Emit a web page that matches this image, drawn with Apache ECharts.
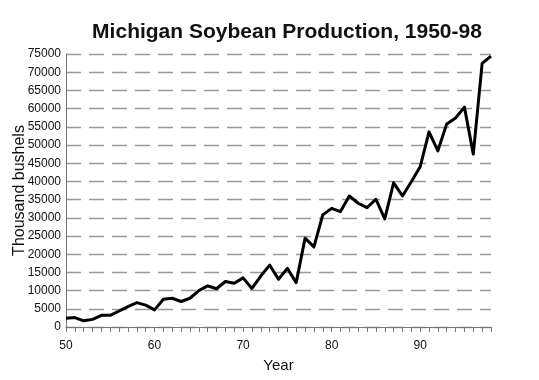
<!DOCTYPE html>
<html>
<head>
<meta charset="utf-8">
<script src="https://cdn.jsdelivr.net/npm/echarts@6/dist/echarts.min.js"></script>
<style>html,body{margin:0;padding:0;background:#fff;}#c{width:539px;height:380px;}</style>
</head>
<body>
<div id="c"></div>
<script>
var years = ["50","51","52","53","54","55","56","57","58","59","60","61","62","63","64","65","66","67","68","69","70","71","72","73","74","75","76","77","78","79","80","81","82","83","84","85","86","87","88","89","90","91","92","93","94","95","96","97","98"];
var production = [2400,2600,1700,2100,3200,3200,4400,5600,6700,6000,4700,7600,7900,7000,7900,10000,11300,10500,12500,12000,13500,10600,14000,17000,13100,16100,12200,24400,22000,30800,32600,31700,36000,34000,32800,35100,29700,39600,36000,39900,44000,53600,48400,55800,57400,60400,47500,72400,74400];
var yTicks = {min: 0, max: 75000, interval: 5000};

var chart = echarts.init(document.getElementById('c'), null, {renderer: 'canvas'});
chart.setOption({
  backgroundColor: '#ffffff',
  animation: false,
  title: {
    text: 'Michigan Soybean Production, 1950-98',
    left: 282, top: 17, textAlign: 'center',
    textStyle: {fontFamily: 'Liberation Sans, Arial, sans-serif', fontSize: 21, fontWeight: 'bold', color: '#111'}
  },
  grid: {left: 66, right: 48, top: 54, bottom: 53, containLabel: false, outerBoundsMode: 'none'},
  xAxis: {
    type: 'category',
    data: years,
    boundaryGap: false,
    name: 'Year',
    nameLocation: 'middle',
    nameGap: 31,
    nameMoveOverlap: false,
    nameTextStyle: {fontFamily: 'Liberation Sans, Arial, sans-serif', fontSize: 15, color: '#111'},
    axisLine: {lineStyle: {color: '#777', width: 1}},
    axisTick: {show: true, interval: 0, length: 5, lineStyle: {color: '#777'}},
    axisLabel: {
      interval: function (i) { return i % 10 === 0; },
      margin: 13,
      fontFamily: 'Liberation Sans, Arial, sans-serif', fontSize: 12, color: '#111'
    },
    splitLine: {show: false}
  },
  yAxis: {
    type: 'value',
    min: yTicks.min, max: yTicks.max, interval: yTicks.interval,
    name: 'Thousand bushels',
    nameLocation: 'middle',
    nameGap: 38,
    nameMoveOverlap: false,
    nameRotate: 90,
    nameTextStyle: {fontFamily: 'Liberation Sans, Arial, sans-serif', fontSize: 16, color: '#111'},
    axisLine: {show: true, lineStyle: {color: '#777', width: 1}},
    axisTick: {show: false},
    axisLabel: {
      margin: 5,
      formatter: function (v) { return String(v); },
      fontFamily: 'Liberation Sans, Arial, sans-serif', fontSize: 12, color: '#111'
    },
    splitLine: {show: true, lineStyle: {color: '#999', width: 1.3, type: [15, 8]}}
  },
  series: [{
    type: 'line',
    data: production,
    showSymbol: false,
    symbol: 'none',
    lineStyle: {color: '#000', width: 3, join: 'round'},
    z: 5
  }]
});
</script>
</body>
</html>
